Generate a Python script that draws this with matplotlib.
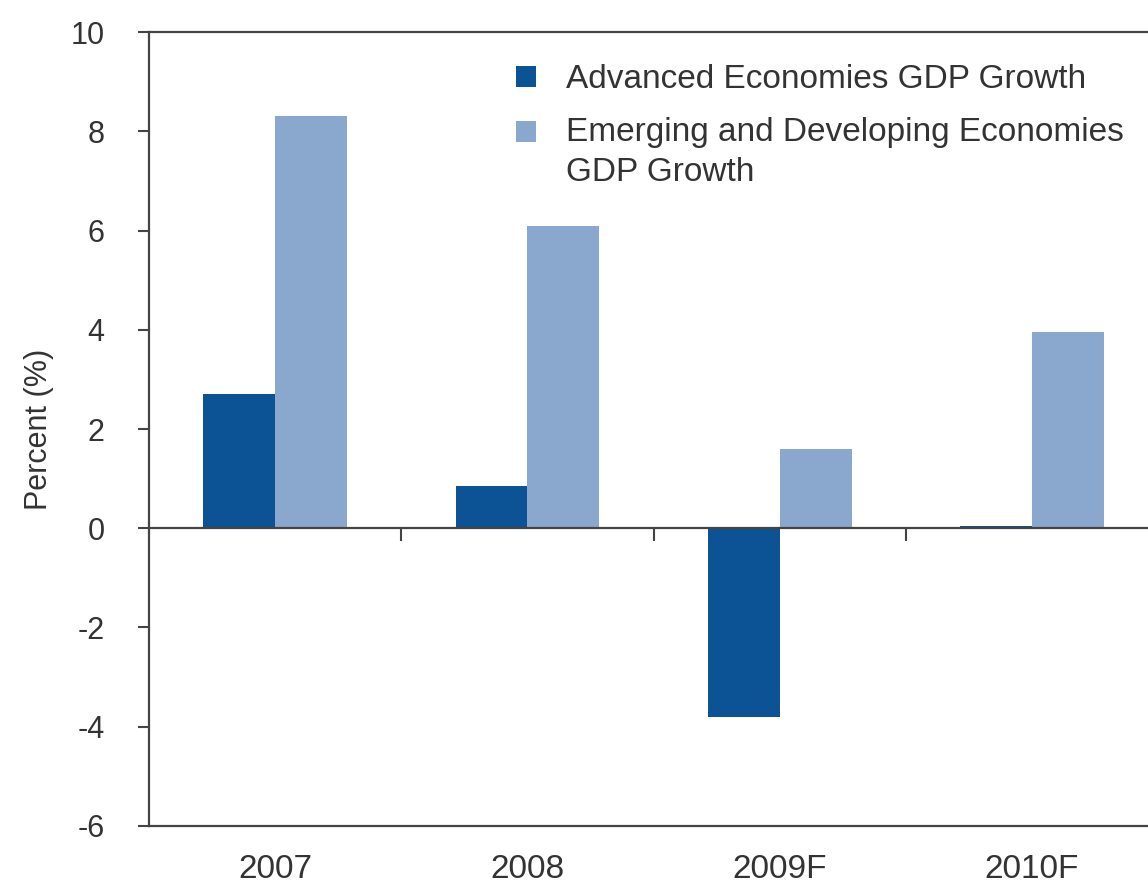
import numpy as np
import matplotlib.pyplot as plt
from matplotlib.patches import Rectangle
from matplotlib.legend_handler import HandlerPatch

years = ['2007', '2008', '2009F', '2010F']
advanced = [2.7, 0.85, -3.8, 0.04]
emerging = [8.3, 6.1, 1.6, 3.95]
labels = ['Advanced Economies GDP Growth', 'Emerging and Developing Economies\nGDP Growth']

plt.rcParams['font.family'] = ['Liberation Sans', 'DejaVu Sans']
plt.rcParams['axes.unicode_minus'] = False

fig = plt.figure(figsize=(11.48, 8.91), dpi=100)
ax = fig.add_axes([0.1298, 0.073, 0.879, 0.891])

x = np.arange(len(years))
w = 0.285
b1 = ax.bar(x - w / 2, advanced, w, color='#0b5394', label=labels[0])
b2 = ax.bar(x + w / 2, emerging, w, color='#8aa8cd', label=labels[1])

ax.set_xlim(-0.5, 3.5)
ax.set_ylim(-6, 10)
ax.set_yticks(range(-6, 11, 2))
ax.tick_params(axis='y', direction='out', length=8, width=1.5, color='#444444',
               labelsize=22, labelcolor='#333333', pad=24)

# zero line carries the small ticks between year groups
ax.spines['bottom'].set_position(('data', 0))
ax.set_xticks(x[:-1] + 0.5)
ax.set_xticklabels([])
ax.tick_params(axis='x', direction='out', length=9, width=1.5, color='#444444')

# year labels and bottom frame
sec = ax.secondary_xaxis(0)
sec.set_xticks(x)
sec.set_xticklabels(years)
sec.tick_params(length=0, labelsize=24, labelcolor='#333333', pad=20)

for s in [ax.spines['left'], ax.spines['top'], ax.spines['bottom'], sec.spines['bottom']]:
    s.set_linewidth(1.6)
    s.set_color('#444444')
ax.spines['right'].set_visible(False)

ax.set_ylabel('Percent (%)', fontsize=22, color='#333333', labelpad=12)


# square for the two-line entry sits next to its first line
def raised_square(legend, orig_handle, xdescent, ydescent, width, height, fontsize):
    return Rectangle((-xdescent, -ydescent + 0.62 * fontsize), width, height)


h1, h2 = b1.patches[0], b2.patches[0]
leg = ax.legend([h1, h2], labels, loc='upper left', bbox_to_anchor=(0.334, 0.997),
                frameon=False, fontsize=24,
                handlelength=0.6, handleheight=0.6, handletextpad=0.9, labelspacing=0.65,
                labelcolor='#333333',
                handler_map={h2: HandlerPatch(patch_func=raised_square)})
for t in leg.get_texts():
    t.set_linespacing(1.35)

fig.savefig('out.png', dpi=100)
